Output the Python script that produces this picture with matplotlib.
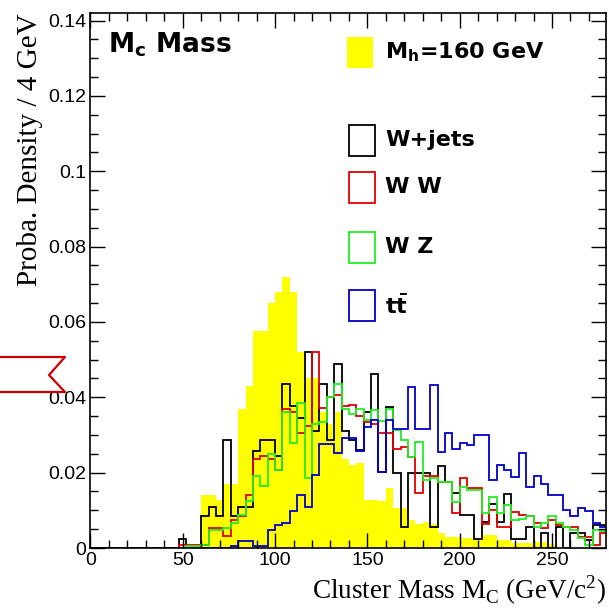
import numpy as np
import matplotlib
matplotlib.use('Agg')
import matplotlib.pyplot as plt
from matplotlib.patches import Rectangle
from matplotlib.lines import Line2D
from matplotlib.ticker import MultipleLocator, FuncFormatter

# 4 GeV bins, first bin starts at 48 GeV (everything below is empty)
bin_start = 48
bin_width = 4

higgs_160 = [0, 0, 0.001, 0.014, 0.014, 0.0128, 0.017, 0.017, 0.037, 0.043,
             0.0577, 0.0577, 0.065, 0.068, 0.072, 0.068, 0.052, 0.045, 0.045, 0.036,
             0.033, 0.036, 0.0235, 0.022, 0.0226, 0.0127, 0.0127, 0.0125, 0.0158, 0.0105,
             0.0105, 0.0075, 0.0065, 0.0068, 0.0065, 0.004, 0.003, 0.003, 0.0026, 0.0026,
             0.0026, 0.0034, 0.0034, 0.002, 0.002, 0.0012, 0.0012, 0.0012, 0.0015, 0.0015,
             0.001, 0, 0, 0, 0, 0, 0, 0]

w_jets = [0.0023, 0, 0, 0.0084, 0.011, 0.0084, 0.0288, 0.0084, 0.011, 0.011,
          0.0257, 0.0288, 0.0288, 0.0244, 0.0435, 0.0377, 0.0346, 0.052, 0.031, 0.0435,
          0.0288, 0.0488, 0.031, 0.0288, 0.026, 0.036, 0.0463, 0.0202, 0.0373, 0.0198,
          0.0057, 0.0198, 0.0198, 0.0198, 0.0057, 0.0217, 0.0176, 0.0145, 0.0088, 0.0088,
          0.0023, 0.007, 0.0118, 0.007, 0.0143, 0.0023, 0.0023, 0.0057, 0, 0.004,
          0, 0.0057, 0, 0.004, 0.004, 0.002, 0.006, 0.006]

ww = [0.0008, 0.0008, 0.0008, 0.0008, 0.0052, 0.0052, 0.0032, 0.0075, 0.0084, 0.0141,
      0.0235, 0.0244, 0.0235, 0.0208, 0.0368, 0.036, 0.0306, 0.0324, 0.052, 0.0372,
      0.04, 0.0405, 0.0377, 0.038, 0.035, 0.0335, 0.033, 0.0304, 0.0304, 0.0264,
      0.0269, 0.0242, 0.0145, 0.019, 0.019, 0.0176, 0.0176, 0.0092, 0.0185, 0.0158,
      0.0158, 0.0065, 0.01, 0.0057, 0.0057, 0.0096, 0.0088, 0.0084, 0.0066, 0.0052,
      0.0075, 0.0062, 0.0057, 0.0057, 0.003, 0.003, 0.0008, 0.004]

wz = [0, 0.0004, 0.0004, 0.0008, 0.0048, 0.0048, 0.0052, 0.0066, 0.0088, 0.0124,
      0.019, 0.0164, 0.025, 0.0208, 0.036, 0.028, 0.0386, 0.0186, 0.033, 0.0335,
      0.04, 0.0435, 0.037, 0.0355, 0.037, 0.034, 0.0366, 0.0338, 0.037, 0.0313,
      0.0286, 0.0242, 0.0282, 0.018, 0.0185, 0.0176, 0.0176, 0.0123, 0.0163, 0.0154,
      0.0154, 0.0092, 0.0136, 0.0092, 0.0114, 0.0074, 0.0078, 0.0084, 0.0057, 0.0066,
      0.0084, 0.0066, 0.0057, 0.0048, 0.0026, 0.0008, 0.0048, 0.0044]

ttbar = [0, 0, 0, 0, 0, 0, 0, 0.0006, 0.0019, 0.0019,
         0.0004, 0.0004, 0.0048, 0.0061, 0.0066, 0.0097, 0.0141, 0.011, 0.0195, 0.0275,
         0.0275, 0.0253, 0.0293, 0.0293, 0.0257, 0.0322, 0.034, 0.0202, 0.034, 0.0317,
         0.0317, 0.0428, 0.0317, 0.0315, 0.0432, 0.0255, 0.0304, 0.0264, 0.028, 0.0273,
         0.03, 0.03, 0.018, 0.022, 0.0207, 0.0189, 0.0251, 0.0163, 0.019, 0.017,
         0.014, 0.014, 0.0101, 0.0084, 0.0106, 0.0097, 0.0066, 0.0057]

legend_labels = ['M$_\\mathdefault{h}$=160 GeV', 'W+jets', 'W W', 'W Z',
                 '$\\mathdefault{t\\bar{t}}$']
line_colors = ['black', '#e00000', '#22ee22', '#0000cc']

n_empty = bin_start // bin_width
edges = np.arange(0, bin_start + bin_width * (len(higgs_160) + 1), bin_width)


def full(vals):
    return np.concatenate([np.zeros(n_empty), vals])


fig = plt.figure(figsize=(6.09, 6.11), dpi=100)
ax = fig.add_axes([0.1486, 0.1031, 0.8457, 0.8756])

ax.stairs(full(higgs_160), edges, fill=True, color='#ffff00', linewidth=0)
for vals, col in zip([w_jets, ww, wz, ttbar], line_colors):
    ax.stairs(full(vals), edges, color=col, linewidth=1.3)

ax.set_xlim(0, 279)
ax.set_ylim(0, 0.142)

ax.xaxis.set_major_locator(MultipleLocator(50))
ax.xaxis.set_minor_locator(MultipleLocator(10))
ax.yaxis.set_major_locator(MultipleLocator(0.02))
ax.yaxis.set_minor_locator(MultipleLocator(0.005))
ax.yaxis.set_major_formatter(FuncFormatter(lambda v, p: '%g' % round(v, 3)))
ax.tick_params(which='both', direction='in', top=True, right=True, width=1.0,
               labelsize=14, labelfontfamily='Liberation Sans', pad=3)
ax.tick_params(which='major', length=11)
ax.tick_params(which='minor', length=6)
for sp in ax.spines.values():
    sp.set_linewidth(1.2)

ax.set_xlabel('Cluster Mass M$_\\mathdefault{C}$ (GeV/c$^\\mathdefault{2}$)',
              family='Liberation Serif', fontsize=19.5, loc='right', labelpad=3)
ax.set_ylabel('Proba. Density / 4 GeV', family='Liberation Serif', fontsize=21,
              loc='top', labelpad=4)

# title box and legend, ROOT style
ax.text(0.034, 0.94, 'M$_\\mathdefault{c}$ Mass', transform=ax.transAxes,
        family='DejaVu Sans', weight='bold', fontsize=19, va='center')

box_y = [0.897, 0.733, 0.645, 0.533, 0.424]
for i, (lab, y0) in enumerate(zip(legend_labels, box_y)):
    if i == 0:
        ax.add_patch(Rectangle((0.498, y0), 0.051, 0.058, transform=ax.transAxes,
                               facecolor='#ffff00', edgecolor='none'))
    else:
        ax.add_patch(Rectangle((0.502, y0), 0.050, 0.058, transform=ax.transAxes,
                               facecolor='white', edgecolor=line_colors[i - 1],
                               linewidth=1.3))
    ax.text(0.572, y0 + 0.029, lab, transform=ax.transAxes, family='DejaVu Sans',
            weight='bold', fontsize=16, va='center')

# red marker on the left margin
px = np.array([-2, 65, 49, 65, -2])
py = np.array([357, 357, 375, 392, 392])
fig.add_artist(Line2D(px / 609, 1 - py / 611, transform=fig.transFigure,
                      color='#cc0000', linewidth=1.6))

plt.savefig('out.png', dpi=100)
